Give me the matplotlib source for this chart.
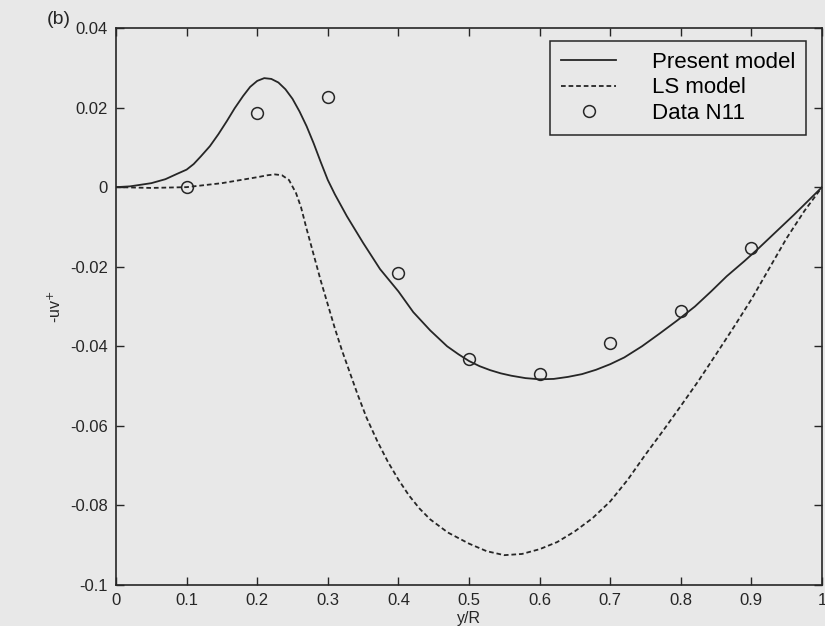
import matplotlib
matplotlib.use("Agg")
import matplotlib.pyplot as plt

# ---- data ----
present_x = [0.0, 0.02, 0.05, 0.07, 0.086, 0.10, 0.11, 0.12, 0.133, 0.145, 0.157, 0.168,
             0.18, 0.19, 0.20, 0.21, 0.22, 0.23, 0.24, 0.25, 0.26, 0.27, 0.28, 0.29,
             0.30, 0.31, 0.327, 0.35, 0.374, 0.40, 0.421, 0.445, 0.469, 0.485, 0.50,
             0.515, 0.53, 0.545, 0.56, 0.58, 0.60, 0.62, 0.64, 0.66, 0.68, 0.70, 0.72,
             0.745, 0.77, 0.795, 0.82, 0.843, 0.865, 0.89, 0.91, 0.935, 0.96, 0.98, 1.0]
present_y = [0.0, 0.0002, 0.001, 0.002, 0.0033, 0.0044, 0.0058, 0.0077, 0.0103, 0.0133, 0.0166, 0.0198,
             0.0229, 0.0252, 0.0267, 0.0274, 0.0272, 0.0263, 0.0246, 0.0222, 0.019, 0.0153, 0.011, 0.0063,
             0.0018, -0.0018, -0.0073, -0.014, -0.0206, -0.0262, -0.0314, -0.036, -0.040, -0.042, -0.0437,
             -0.045, -0.046, -0.0468, -0.0474, -0.048, -0.0483, -0.0482, -0.0477, -0.047, -0.0459, -0.0445, -0.0428,
             -0.0400, -0.0368, -0.0335, -0.0300, -0.0262, -0.0224, -0.0186, -0.0154, -0.0112, -0.0070, -0.0035, 0.0]

ls_x = [0.0, 0.05, 0.10, 0.15, 0.20, 0.215, 0.225, 0.235, 0.245, 0.255, 0.262, 0.27, 0.28,
        0.29, 0.30, 0.31, 0.32, 0.33, 0.342, 0.355, 0.37, 0.385, 0.40, 0.415, 0.43, 0.445,
        0.47, 0.50, 0.525, 0.55, 0.575, 0.60, 0.625, 0.65, 0.675, 0.70, 0.725, 0.75, 0.775,
        0.80, 0.825, 0.85, 0.875, 0.90, 0.925, 0.95, 0.975, 1.0]
ls_y = [0.0, -0.0002, 0.0, 0.001, 0.0025, 0.003, 0.0032, 0.003, 0.0018, -0.0015, -0.005, -0.0105, -0.017,
        -0.0235, -0.0295, -0.0355, -0.041, -0.046, -0.052, -0.058, -0.0638, -0.069, -0.0735, -0.0775, -0.0808, -0.0835,
        -0.0868, -0.0896, -0.0915, -0.0925, -0.0922, -0.0910, -0.0892, -0.0865, -0.0832, -0.0790, -0.0735, -0.0672, -0.0612,
        -0.0550, -0.0487, -0.0420, -0.0352, -0.0282, -0.0205, -0.0128, -0.0060, 0.0]

data_x = [0.1, 0.2, 0.3, 0.4, 0.5, 0.6, 0.7, 0.8, 0.9]
data_y = [0.0, 0.0187, 0.0226, -0.0216, -0.0432, -0.0470, -0.0392, -0.0312, -0.0152]

xticks = [0, 0.1, 0.2, 0.3, 0.4, 0.5, 0.6, 0.7, 0.8, 0.9, 1]
xtick_labels = ["0", "0.1", "0.2", "0.3", "0.4", "0.5", "0.6", "0.7", "0.8", "0.9", "1"]
yticks = [0.04, 0.02, 0, -0.02, -0.04, -0.06, -0.08, -0.1]
ytick_labels = ["0.04", "0.02", "0", "-0.02", "-0.04", "-0.06", "-0.08", "-0.1"]

plt.rcParams['font.family'] = ['Liberation Sans', 'DejaVu Sans']

bg = '#e8e8e8'
ink = '#262626'
fig = plt.figure(figsize=(8.25, 6.26), dpi=100, facecolor=bg)
ax = fig.add_axes([116/825, 41/626, 706/825, 557/626])
ax.set_facecolor(bg)

ax.plot(present_x, present_y, color=ink, lw=1.3, label='Present model')
ax.plot(ls_x, ls_y, color=ink, lw=1.3, linestyle=(0, (2.6, 1.6)), label='LS model')
ax.plot(data_x, data_y, linestyle='none', marker='o', markersize=8.5,
        markerfacecolor='none', markeredgecolor=ink, markeredgewidth=1.1, label='Data N11')

ax.set_xlim(0, 1)
ax.set_ylim(-0.1, 0.04)
ax.set_xticks(xticks)
ax.set_xticklabels(xtick_labels)
ax.set_yticks(yticks)
ax.set_yticklabels(ytick_labels)
ax.tick_params(direction='in', top=True, right=True, length=6, width=1.0,
               labelsize=12, colors=ink, pad=6)
for s in ax.spines.values():
    s.set_color(ink)
    s.set_linewidth(1.2)

ax.set_xlabel('y/R', fontsize=11.5, color=ink, labelpad=2)
ax.set_ylabel('-uv$^{+}$', fontsize=11.5, color=ink, labelpad=4)
fig.text(47/825, 1 - 20/626, '(b)', fontsize=14, color=ink, va='center', ha='left')

leg = ax.legend(loc='upper right', bbox_to_anchor=(0.978, 0.977), borderaxespad=0,
                fontsize=16, frameon=True, fancybox=False, handlelength=2.5,
                handletextpad=1.6, labelspacing=0.2, borderpad=0.5)
leg.get_frame().set_edgecolor(ink)
leg.get_frame().set_facecolor(bg)
leg.get_frame().set_linewidth(1.1)
leg.get_frame().set_alpha(1)

fig.savefig('out.png', dpi=100, facecolor=bg)
